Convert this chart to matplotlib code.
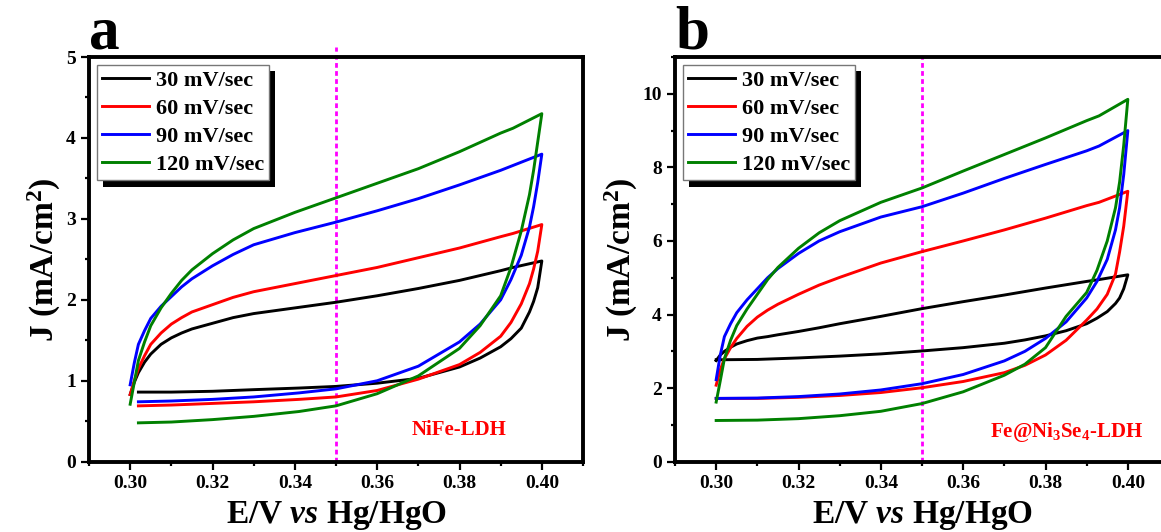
## CV curves - NiFe-LDH (a) and Fe@Ni3Se4-LDH (b)

import numpy as np
import matplotlib
matplotlib.use('Agg')
import matplotlib.pyplot as plt
import matplotlib.patches as mpatches
import matplotlib.transforms as mtransforms
from matplotlib.ticker import MultipleLocator, FormatStrFormatter

plt.rcParams['font.family'] = 'Liberation Serif'
plt.rcParams['font.weight'] = 'bold'
plt.rcParams['axes.labelweight'] = 'bold'
plt.rcParams['mathtext.fontset'] = 'custom'
plt.rcParams['mathtext.rm'] = 'Liberation Serif:bold'
plt.rcParams['mathtext.bf'] = 'Liberation Serif:bold'
plt.rcParams['mathtext.it'] = 'Liberation Serif:bold:italic'

### ---- data ---- ###
rates = ['30 mV/sec', '60 mV/sec', '90 mV/sec', '120 mV/sec']
colors = ['black', 'red', 'blue', 'green']

# upper (anodic) branch, both panels
E_up = [0.300, 0.301, 0.302, 0.3035, 0.305, 0.3075, 0.310, 0.3125, 0.315, 0.320,
        0.325, 0.330, 0.340, 0.350, 0.360, 0.370, 0.380, 0.390, 0.393, 0.400]

# panel a - NiFe-LDH
E_low_a = [0.302, 0.310, 0.320, 0.330, 0.341, 0.350, 0.360, 0.370, 0.380,
           0.385, 0.390, 0.3925, 0.395, 0.397, 0.398, 0.399, 0.400]
a_low_30  = [0.86, 0.86, 0.87, 0.89, 0.91, 0.93, 0.97, 1.03, 1.17, 1.28, 1.42, 1.52, 1.65, 1.85, 1.98, 2.15, 2.48]
a_low_60  = [0.69, 0.70, 0.72, 0.74, 0.77, 0.80, 0.88, 1.02, 1.20, 1.35, 1.55, 1.72, 1.95, 2.20, 2.38, 2.60, 2.93]
a_low_90  = [0.74, 0.75, 0.77, 0.80, 0.85, 0.90, 1.00, 1.18, 1.48, 1.70, 2.00, 2.25, 2.55, 2.90, 3.15, 3.45, 3.80]
a_low_120 = [0.48, 0.49, 0.52, 0.56, 0.62, 0.69, 0.84, 1.06, 1.40, 1.68, 2.05, 2.40, 2.85, 3.30, 3.60, 3.95, 4.30]
a_up_30  = [0.83, 0.98, 1.10, 1.23, 1.33, 1.45, 1.53, 1.59, 1.64, 1.71,
            1.78, 1.83, 1.90, 1.97, 2.05, 2.14, 2.24, 2.36, 2.40, 2.48]
a_up_60  = [0.83, 1.00, 1.15, 1.31, 1.45, 1.59, 1.70, 1.78, 1.85, 1.94,
            2.03, 2.10, 2.20, 2.30, 2.40, 2.52, 2.64, 2.78, 2.82, 2.93]
a_up_90  = [0.95, 1.22, 1.45, 1.62, 1.77, 1.92, 2.04, 2.16, 2.26, 2.42,
            2.56, 2.68, 2.83, 2.96, 3.10, 3.25, 3.42, 3.60, 3.66, 3.80]
a_up_120 = [0.71, 0.98, 1.25, 1.48, 1.68, 1.90, 2.08, 2.24, 2.37, 2.57,
            2.74, 2.88, 3.08, 3.26, 3.44, 3.62, 3.83, 4.06, 4.12, 4.30]

# panel b - Fe@Ni3Se4-LDH
E_low_b = [0.300, 0.310, 0.320, 0.330, 0.340, 0.350, 0.360, 0.370, 0.375, 0.380,
           0.385, 0.390, 0.3925, 0.395, 0.397, 0.398, 0.399, 0.400]
b_low_30  = [2.77, 2.78, 2.82, 2.87, 2.93, 3.01, 3.10, 3.22, 3.31, 3.42, 3.56, 3.75, 3.90, 4.08, 4.30, 4.45, 4.70, 5.08]
b_low_60  = [1.72, 1.72, 1.75, 1.80, 1.88, 2.01, 2.18, 2.42, 2.62, 2.90, 3.30, 3.85, 4.15, 4.55, 5.10, 5.70, 6.40, 7.35]
b_low_90  = [1.72, 1.73, 1.77, 1.84, 1.95, 2.12, 2.37, 2.74, 3.00, 3.35, 3.80, 4.45, 4.90, 5.50, 6.30, 6.90, 7.80, 9.00]
b_low_120 = [1.12, 1.13, 1.17, 1.25, 1.37, 1.58, 1.90, 2.35, 2.65, 3.10, 3.95, 4.60, 5.20, 6.00, 6.90, 7.60, 8.60, 9.85]
b_up_30  = [2.75, 2.90, 3.00, 3.11, 3.20, 3.29, 3.36, 3.40, 3.45, 3.54,
            3.64, 3.75, 3.95, 4.16, 4.35, 4.53, 4.72, 4.90, 4.95, 5.08]
b_up_60  = [2.08, 2.50, 2.80, 3.10, 3.35, 3.68, 3.93, 4.12, 4.28, 4.55,
            4.80, 5.01, 5.40, 5.71, 6.00, 6.30, 6.62, 6.96, 7.05, 7.35]
b_up_90  = [2.23, 2.90, 3.40, 3.75, 4.05, 4.40, 4.70, 5.00, 5.25, 5.66,
            6.00, 6.25, 6.65, 6.93, 7.30, 7.70, 8.08, 8.45, 8.58, 9.00]
b_up_120 = [1.62, 2.20, 2.80, 3.30, 3.70, 4.15, 4.55, 4.95, 5.28, 5.80,
            6.22, 6.55, 7.05, 7.44, 7.90, 8.35, 8.80, 9.27, 9.40, 9.85]

E_mark = 0.35


def loop(E_low, j_low, j_up):
    # lower branch forward, then upper branch back to 0.30
    E = np.concatenate((E_low, E_up[::-1]))
    J = np.concatenate((j_low, j_up[::-1]))
    return E, J


def panel(ax, E_low, lows, ups, ymax, ystep, letter, name, name_xy, mark_top):
    for j_low, j_up, c, lab in zip(lows, ups, colors, rates):
        E, J = loop(E_low, j_low, j_up)
        ax.plot(E, J, color=c, lw=2.1, label=lab, solid_joinstyle='round')
    ax.plot([E_mark, E_mark], [0, mark_top], color='#FF00FF', lw=2,
            ls=(0, (1.7, 1.2)), clip_on=False, zorder=1)
    ax.set_xlim(0.29, 0.41)
    ax.set_ylim(0, ymax)
    ax.xaxis.set_major_locator(MultipleLocator(0.02))
    ax.xaxis.set_minor_locator(MultipleLocator(0.01))
    ax.xaxis.set_major_formatter(FormatStrFormatter('%.2f'))
    ax.yaxis.set_major_locator(MultipleLocator(ystep))
    ax.yaxis.set_minor_locator(MultipleLocator(ystep / 2))
    ax.tick_params(which='major', direction='out', length=5.5, width=1.6, labelsize=14, pad=4)
    ax.tick_params(which='minor', direction='out', length=3, width=1.6)
    for s in ax.spines.values():
        s.set_linewidth(2.8)
    ax.set_xlabel(r'E/V $\mathit{vs}$ Hg/HgO', fontsize=24, labelpad=5)
    ax.set_ylabel(r'J (mA/cm$^\mathbf{2}$)', fontsize=24, labelpad=2)
    ax.text(0.0, 1.022, letter, transform=ax.transAxes, fontsize=44,
            fontweight='bold', ha='left', va='baseline')
    ax.text(name_xy[0], name_xy[1], name, color='red', fontsize=15,
            fontweight='bold', ha='center', va='center')
    leg = ax.legend(loc='upper left', fontsize=16, frameon=True, fancybox=False,
                    framealpha=1, edgecolor='#777777', borderpad=0.25,
                    labelspacing=0.33, handlelength=2.1, handletextpad=0.3,
                    borderaxespad=0.35)
    leg.get_frame().set_linewidth(1.0)
    return leg


fig = plt.figure(figsize=(11.61, 5.32), dpi=100)
ax1 = fig.add_axes([89 / 1161, 70.3 / 532, 494 / 1161, 404.7 / 532])
ax2 = fig.add_axes([675 / 1161, 70.3 / 532, 494 / 1161, 404.7 / 532])

leg1 = panel(ax1, E_low_a, [a_low_30, a_low_60, a_low_90, a_low_120],
             [a_up_30, a_up_60, a_up_90, a_up_120], 5, 1, 'a', 'NiFe-LDH',
             (0.380, 0.39), 5.12)
leg2 = panel(ax2, E_low_b, [b_low_30, b_low_60, b_low_90, b_low_120],
             [b_up_30, b_up_60, b_up_90, b_up_120], 11, 2, 'b',
             r'Fe@Ni$_\mathbf{3}$Se$_\mathbf{4}$-LDH', (0.385, 0.80), 11)
ax2.spines['right'].set_visible(False)

# solid black drop shadow behind the legend boxes
fig.canvas.draw()
for ax, leg in [(ax1, leg1), (ax2, leg2)]:
    bb = leg.get_window_extent()
    sh = mpatches.Rectangle((bb.x0 + 6, bb.y0 - 6.5), bb.width, bb.height,
                            transform=mtransforms.IdentityTransform(),
                            facecolor='black', edgecolor='none', zorder=4.5,
                            clip_on=False)
    ax.add_artist(sh)

fig.savefig('out.png', dpi=100)
